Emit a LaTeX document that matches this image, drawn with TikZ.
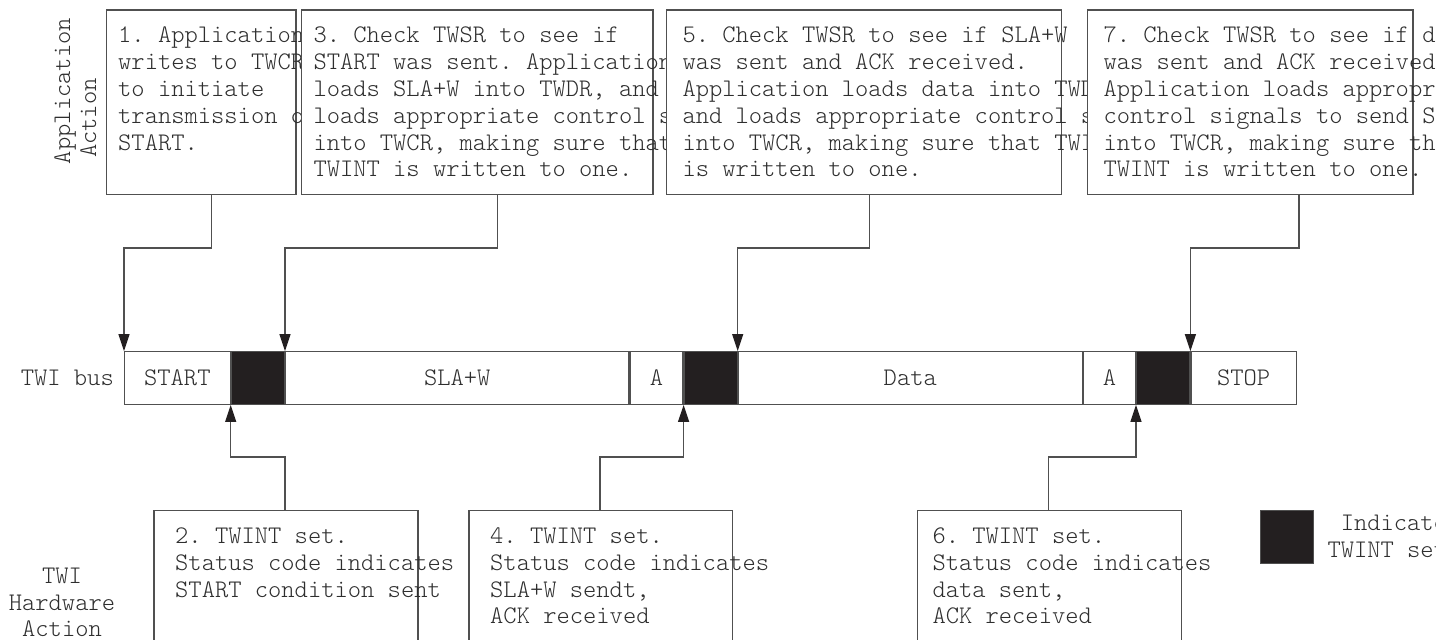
\documentclass[tikz,border=0pt]{standalone}
\usetikzlibrary{arrows.meta}
\definecolor{linec}{HTML}{505050}
\definecolor{txtc}{HTML}{2E2E2E}
\definecolor{blk}{HTML}{231F20}
\newcommand\monof{\fontfamily{lmtt}\fontseries{l}\fontshape{n}\fontsize{25.3}{26.8}\selectfont\frenchspacing}
\newcommand\fstrut{\rule{0pt}{22pt}}
\begin{document}
\begin{tikzpicture}[x=1pt,y=-1pt,
  tbox/.style={draw=linec, fill=white, line width=1.2pt, inner sep=0pt, anchor=north west, minimum height=184.7pt},
  bbox/.style={draw=linec, fill=white, line width=1.2pt, inner sep=0pt, anchor=north west, minimum height=170pt},
  seg/.style={draw=linec, fill=white, line width=1.2pt, inner sep=0pt, anchor=west, minimum height=52.6pt, font=\monof, text=txtc},
  blkseg/.style={seg, fill=blk},
  txt/.style={inner sep=0pt, anchor=north west, align=left, font=\monof, text=txtc},
  lbl/.style={inner sep=0pt, font=\monof, text=txtc},
  arr/.style={draw=linec, line width=1.2pt, -{Triangle[length=17pt,width=11pt,color=blk]}}
]
\useasboundingbox (0,0) rectangle (1452,640);
\clip (0,0) rectangle (1435,640);

% side labels
\node[lbl, rotate=90, anchor=base] (la1) at (70,91) {Application};
\node[lbl, rotate=90, anchor=base] (la2) at (96,118) {Action};
\node[lbl, align=center, anchor=north] (lh) at (62,561) {\fstrut TWI\\Hardware\\Action};

% top boxes with overflowing text
\node[tbox, minimum width=189.3pt] (b1) at (106,9.3) {};
\node[txt] (t1) at (118,20.7) {\fstrut 1. Application\\writes to TWCR\\to initiate\\transmission of\\START.};
\node[tbox, minimum width=351.6pt] (b3) at (300.7,9.3) {};
\node[txt] (t3) at (313.3,20.7) {\fstrut 3. Check TWSR to see if\\START was sent. Application\\loads SLA+W into TWDR, and\\loads appropriate control signals\\into TWCR, making sure that\\TWINT is written to one.};
\node[tbox, minimum width=395pt] (b5) at (665.7,9.3) {};
\node[txt] (t5) at (682.3,20.7) {\fstrut 5. Check TWSR to see if SLA+W\\was sent and ACK received.\\Application loads data into TWDR,\\and loads appropriate control signals\\into TWCR, making sure that TWINT\\is written to one.};
\node[tbox, minimum width=325.3pt] (b7) at (1087,9.3) {};
\node[txt] (t7) at (1103.3,20.7) {\fstrut 7. Check TWSR to see if data\\was sent and ACK received.\\Application loads appropriate\\control signals to send STOP\\into TWCR, making sure that\\TWINT is written to one.};

% TWI bus
\node[seg, minimum width=105.5pt] (sStart) at (124,378) {START};
\node[blkseg, minimum width=53.1pt] (k1) at (sStart.east) {};
\node[seg, minimum width=343.4pt] (sSla) at (k1.east) {SLA+W};
\node[seg, minimum width=52.8pt] (sA1) at (sSla.east) {A};
\node[blkseg, minimum width=52.9pt] (k2) at (sA1.east) {};
\node[seg, minimum width=344pt] (sData) at (k2.east) {Data};
\node[seg, minimum width=51.9pt] (sA2) at (sData.east) {A};
\node[blkseg, minimum width=53.2pt] (k3) at (sA2.east) {};
\node[seg, minimum width=105.2pt] (sStop) at (k3.east) {STOP};
\node[lbl, anchor=east] (lbus) at ([xshift=-10pt]sStart.west) {TWI bus};

% bottom boxes
\node[bbox, minimum width=264pt] (b2) at (153.3,510) {};
\node[txt] (t2) at (175,521.3) {\fstrut 2. TWINT set.\\Status code indicates\\START condition sent};
\node[bbox, minimum width=263.4pt] (b4) at (468.3,510) {};
\node[txt] (t4) at (490,521.3) {\fstrut 4. TWINT set.\\Status code indicates\\SLA+W sendt,\\ACK received};
\node[bbox, minimum width=264pt] (b6) at (916.7,510) {};
\node[txt] (t6) at (932.3,521.3) {\fstrut 6. TWINT set.\\Status code indicates\\data sent,\\ACK received};

% legend
\node[draw=linec, line width=1pt, fill=blk, inner sep=0pt, anchor=north west, minimum width=53.3pt, minimum height=53.3pt] (leg) at (1260,510) {};
\node[txt] (legt) at (1327.3,508.7) {\fstrut\phantom{T}Indicates\\TWINT set};

% connectors: application actions down to the bus
\draw[arr] ([xshift=105.5pt]b1.south west) -- ++(0,52.7) -| (sStart.north west);
\draw[arr] ([xshift=196.6pt]b3.south west) -- ++(0,52.7) -| (sSla.north west);
\draw[arr] ([xshift=203.6pt]b5.south west) -- ++(0,52.7) -| (sData.north west);
\draw[arr] ([xshift=212pt]b7.south west) -- ++(0,52.7) -| (sStop.north west);

% connectors: hardware actions up to the bus
\draw[arr] ([xshift=131.7pt]b2.north west) -- ++(0,-53) -| (k1.south west);
\draw[arr] ([xshift=131.7pt]b4.north west) -- ++(0,-53) -| (k2.south west);
\draw[arr] ([xshift=131.6pt]b6.north west) -- ++(0,-53) -| (k3.south west);
\end{tikzpicture}
\end{document}
